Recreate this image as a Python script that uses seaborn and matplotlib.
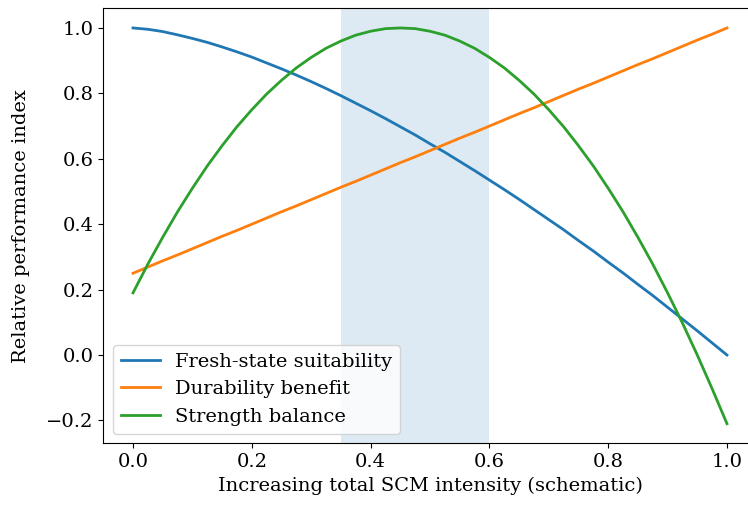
import matplotlib
matplotlib.use('Agg')
import matplotlib.pyplot as plt
import seaborn as sb
import pandas as pd

# schematic x grid and the three read-off curves
scm_intensity = [0.0, 0.025, 0.05, 0.075, 0.1, 0.125, 0.15, 0.175, 0.2, 0.225,
                 0.25, 0.275, 0.3, 0.325, 0.35, 0.375, 0.4, 0.425, 0.45, 0.475,
                 0.5, 0.525, 0.55, 0.575, 0.6, 0.625, 0.65, 0.675, 0.7, 0.725,
                 0.75, 0.775, 0.8, 0.825, 0.85, 0.875, 0.9, 0.925, 0.95, 0.975, 1.0]
fresh_state = [1.000, 0.996, 0.989, 0.979, 0.968, 0.956, 0.942, 0.927, 0.911, 0.893,
               0.875, 0.856, 0.836, 0.815, 0.793, 0.770, 0.747, 0.723, 0.698, 0.673,
               0.646, 0.620, 0.592, 0.564, 0.535, 0.506, 0.476, 0.445, 0.414, 0.383,
               0.350, 0.318, 0.284, 0.251, 0.216, 0.182, 0.146, 0.110, 0.074, 0.037, 0.000]
durability = [0.250, 0.269, 0.288, 0.306, 0.325, 0.344, 0.363, 0.381, 0.400, 0.419,
              0.438, 0.456, 0.475, 0.494, 0.513, 0.531, 0.550, 0.569, 0.588, 0.606,
              0.625, 0.644, 0.663, 0.681, 0.700, 0.719, 0.738, 0.756, 0.775, 0.794,
              0.813, 0.831, 0.850, 0.869, 0.888, 0.906, 0.925, 0.944, 0.963, 0.981, 1.000]
strength = [0.190, 0.278, 0.360, 0.438, 0.510, 0.578, 0.640, 0.698, 0.750, 0.798,
            0.840, 0.878, 0.910, 0.938, 0.960, 0.978, 0.990, 0.998, 1.000, 0.998,
            0.990, 0.978, 0.960, 0.938, 0.910, 0.878, 0.840, 0.798, 0.750, 0.698,
            0.640, 0.578, 0.510, 0.438, 0.360, 0.278, 0.190, 0.098, 0.000, -0.103, -0.210]
series_names = ['Fresh-state suitability', 'Durability benefit', 'Strength balance']
window = (0.35, 0.6)

plt.rcParams['font.family'] = ['DejaVu Serif']
plt.rcParams['font.size'] = 14

df = pd.DataFrame({'x': scm_intensity * 3,
                   'y': fresh_state + durability + strength,
                   'Series': [n for n in series_names for _ in scm_intensity]})

fig = plt.figure(figsize=(7.48, 5.05), dpi=100)
ax = fig.add_axes([0.1381, 0.1218, 0.8735, 0.862])
ax.axvspan(window[0], window[1], color='tab:blue', alpha=0.15, lw=0)
sb.lineplot(data=df, x='x', y='y', hue='Series', hue_order=series_names,
            palette=['tab:blue', 'tab:orange', 'tab:green'], linewidth=2, ax=ax)
ax.set_xlim(-0.05, 1.05)
ax.set_ylim(-0.2705, 1.0605)
ax.set_xlabel('Increasing total SCM intensity (schematic)')
ax.set_ylabel('Relative performance index', labelpad=12)
ax.legend(loc='lower left', title=None)

fig.savefig('out.png', dpi=100)
